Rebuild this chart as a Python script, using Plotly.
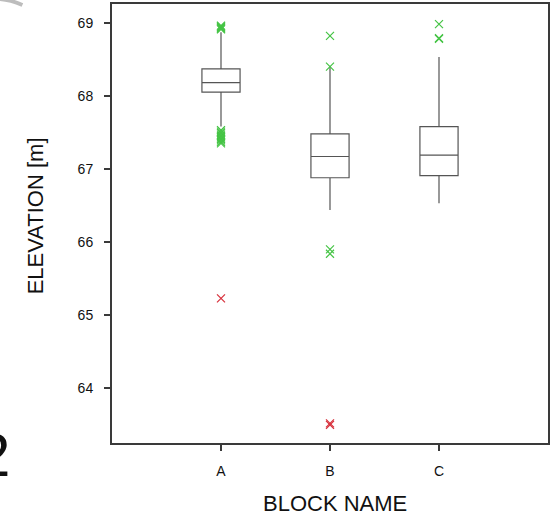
import plotly.graph_objects as go

# ---- data ----
categories = ["A", "B", "C"]
q1 = [68.05, 66.88, 66.91]
median = [68.18, 67.17, 67.19]
q3 = [68.37, 67.48, 67.58]
lower_whisker = [67.58, 66.44, 66.53]
upper_whisker = [68.87, 68.40, 68.53]

mild_outliers = {
    "A": [68.91, 68.92, 68.93, 68.94, 68.95, 68.96,
          67.35, 67.37, 67.39, 67.41, 67.43, 67.45, 67.47, 67.49, 67.51, 67.53],
    "B": [68.82, 68.40, 65.90, 65.84],
    "C": [68.98, 68.79, 68.78],
}
extreme_outliers = {
    "A": [65.23],
    "B": [63.52, 63.50],
    "C": [],
}

y_ticks = [64, 65, 66, 67, 68, 69]

# ---- figure ----
fig = go.Figure()
xpos = list(range(len(categories)))

fig.add_trace(go.Box(
    x=xpos, q1=q1, median=median, q3=q3,
    lowerfence=lower_whisker, upperfence=upper_whisker,
    boxpoints=False, width=0.35, whiskerwidth=0,
    fillcolor="white", line=dict(color="#555555", width=1.2),
    hoverinfo="skip", showlegend=False,
))

for i, c in enumerate(categories):
    mv = mild_outliers[c]
    if mv:
        fig.add_trace(go.Scatter(
            x=[i] * len(mv), y=mv, mode="markers", showlegend=False, hoverinfo="skip",
            marker=dict(symbol="x-thin", size=8, line=dict(color="#45c445", width=1.2)),
        ))
    ev = extreme_outliers[c]
    if ev:
        fig.add_trace(go.Scatter(
            x=[i] * len(ev), y=ev, mode="markers", showlegend=False, hoverinfo="skip",
            marker=dict(symbol="x-thin", size=8, line=dict(color="#d8343f", width=1.3)),
        ))

axis_common = dict(
    showline=True, mirror=True, linecolor="#3a3a3a", linewidth=2,
    ticks="outside", ticklen=6, tickcolor="#3a3a3a", tickwidth=1.5,
    showgrid=False, zeroline=False,
    tickfont=dict(family="Liberation Sans", size=14, color="#111111"),
)

fig.update_layout(
    width=552, height=517,
    margin=dict(l=112, r=2, t=4, b=74),
    plot_bgcolor="white", paper_bgcolor="white",
    xaxis=dict(range=[-1, 3], tickvals=xpos, ticktext=categories,
               ticklabelstandoff=8, **axis_common),
    yaxis=dict(range=[63.252, 69.256], tickvals=y_ticks,
               ticktext=[str(t) for t in y_ticks], ticklabelstandoff=8, **axis_common),
    annotations=[
        dict(text="ELEVATION [m]", xref="paper", yref="paper",
             x=(36 - 112) / 438, y=(443 - 216) / 439, showarrow=False, textangle=-90,
             xanchor="center", yanchor="middle",
             font=dict(family="Liberation Sans", size=22, color="#111111")),
        dict(text="BLOCK NAME", xref="paper", yref="paper",
             x=(336 - 112) / 438, y=(443 - 503) / 439, showarrow=False,
             xanchor="center", yanchor="middle",
             font=dict(family="Liberation Sans", size=22, color="#111111")),
        dict(text="2", xref="paper", yref="paper",
             x=(12 - 112) / 438, y=(443 - 454) / 439, showarrow=False,
             xanchor="right", yanchor="middle",
             font=dict(family="Liberation Sans", size=62, color="#111111")),
    ],
    shapes=[
        dict(type="path", xref="paper", yref="paper",
             path="M {:.4f},{:.4f} Q {:.4f},{:.4f} {:.4f},{:.4f}".format(
                 (-4 - 112) / 438, (443 + 1) / 439,
                 (8 - 112) / 438, (443 + 1) / 439,
                 (22 - 112) / 438, (443 - 5) / 439),
             line=dict(color="#bdbdbd", width=4)),
    ],
)

fig.write_html("out.html")
